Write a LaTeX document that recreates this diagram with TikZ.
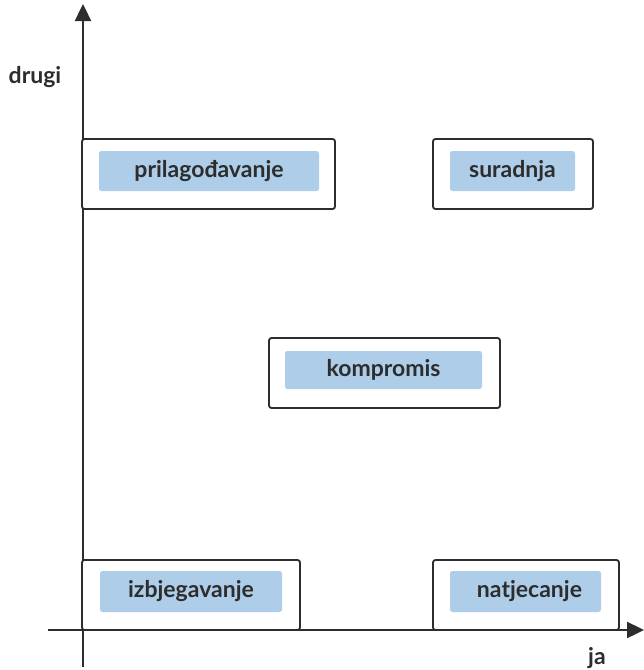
\documentclass[tikz,border=0pt]{standalone}
\usepackage{fontspec}
\setmainfont{Lato}
\usepackage{xcolor}
\usepackage{tikz}
\usetikzlibrary{
	arrows.meta,positioning
}
\definecolor{ink}{RGB}{45,45,45}
\definecolor{boxblue}{RGB}{174,205,232}
\tikzset{
	axis/.style={draw=ink,line width=2.4pt,-{Triangle[length=17pt,width=16pt]}},
	outerbox/.style={draw=ink,line width=1.8pt,fill=white,rounded corners=2.5pt,inner sep=0pt},
	innerbox/.style={fill=boxblue,rounded corners=2.5pt,inner sep=0pt,text=ink,
		font=\fontsize{23}{26}\selectfont\bfseries},
	axislabel/.style={text=ink,font=\fontsize{23}{26}\selectfont\bfseries}
}

\begin{document}
\begin{tikzpicture}[x=1pt,y=-1pt]
		\useasboundingbox (0,0) rectangle (644,670);
		\coordinate (yStart) at (83,667);
		\coordinate (yEnd) at (83,4);
		\coordinate (xStart) at (48,630);
		\coordinate (xEnd) at (644,630);
		%
		\draw[axis] (yStart) -- (yEnd);
		\draw[axis] (xStart) -- (xEnd);
		%
		\node[outerbox,minimum width=253pt,minimum height=70pt] (prilOut) at (208.5,174) {};
		\node[innerbox,minimum width=220pt,minimum height=40pt] (pril) at (209,171) {prilagođavanje};
		\node[outerbox,minimum width=160pt,minimum height=70pt] (suraOut) at (513,174) {};
		\node[innerbox,minimum width=125pt,minimum height=40pt] (sura) at (512.5,171) {suradnja};
		\node[outerbox,minimum width=231pt,minimum height=70pt] (kompOut) at (384.5,373) {};
		\node[innerbox,minimum width=197pt,minimum height=38pt] (komp) at (383.5,370) {kompromis};
		\node[outerbox,minimum width=218pt,minimum height=70pt] (izbjOut) at (191,595) {};
		\node[innerbox,minimum width=182pt,minimum height=41pt] (izbj) at (191,591.5) {izbjegavanje};
		\node[outerbox,minimum width=186pt,minimum height=70pt] (natjOut) at (526,595) {};
		\node[innerbox,minimum width=151pt,minimum height=41pt] (natj) at (525.5,591.5) {\hspace*{8pt}natjecanje};
		%
		\node[axislabel] (drugi) at (35,77) {drugi};
		\node[axislabel] (ja) at (597,658) {ja};
	\end{tikzpicture}
\end{document}
